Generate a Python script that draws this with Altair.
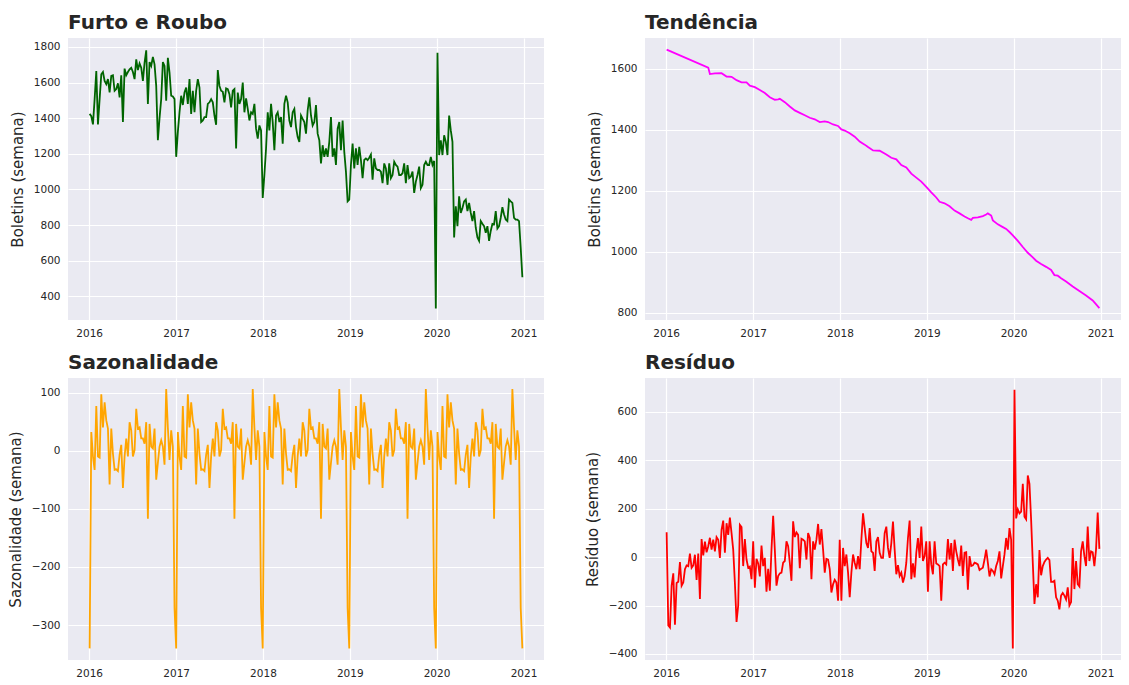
import altair as alt
import numpy as np
import pandas as pd

# ---- weekly index (261 weeks, Sundays) ----
start_date = "2016-01-03"
n_weeks = 261

# ---- observed: Furto e Roubo (boletins por semana) ----
observado = [
    1424, 1411, 1365, 1507, 1665, 1365, 1507, 1646, 1659, 1609,
    1591, 1619, 1544, 1637, 1641, 1554, 1563, 1596, 1517, 1641,
    1378, 1678, 1641, 1659, 1674, 1683, 1659, 1619, 1730, 1670,
    1707, 1683, 1609, 1711, 1781, 1480, 1715, 1693, 1744, 1702,
    1581, 1276, 1400, 1507, 1715, 1693, 1498, 1739, 1656, 1526,
    1522, 1507, 1183,
    1322, 1433, 1526, 1474, 1544, 1572, 1480, 1619, 1424, 1554,
    1433, 1554, 1619, 1572, 1378, 1387, 1406, 1406, 1480, 1489,
    1507, 1489, 1415, 1363, 1670, 1581, 1554, 1548, 1489, 1567,
    1563, 1535, 1461, 1554, 1563, 1230, 1544, 1480, 1507, 1600,
    1433, 1511, 1452, 1387,
    1433, 1424, 1480, 1341, 1285, 1359, 1331,
    952,
    1081, 1230, 1433, 1331, 1480, 1378, 1220, 1415, 1433, 1378,
    1406, 1257, 1480, 1526, 1489, 1387, 1350, 1433, 1452, 1350,
    1294, 1267, 1415, 1396, 1378, 1313, 1443, 1517, 1415, 1359,
    1378, 1474, 1313, 1276, 1146, 1248, 1183, 1230, 1183, 1267,
    1406, 1183, 1230, 1137, 1341, 1378, 1220, 1387, 1211, 1100,
    933, 943,
    1137, 1257, 1118, 1230, 1137, 1239, 1165, 1063, 1165, 1174,
    1165, 1178, 1196, 1054, 1174, 1118, 1109, 1109, 1100, 1035,
    1146, 1118, 1026, 1146, 1063, 1081,
    1155, 1137, 1128, 1081, 1081, 1091, 1146, 1035, 1137, 1063,
    1072, 1100, 980, 1044, 1081, 1128, 1007, 1026, 1137, 1155,
    1137, 1137, 1183, 1137,
    1160,
    331, 1767,
    1193, 1276, 1193, 1304, 1267, 1193, 1415, 1331, 1267, 730,
    905, 794, 961, 868, 896, 933, 943, 878, 924, 868,
    822, 878, 785, 730, 711, 822, 807, 794, 757, 794,
    711, 767, 807, 804, 878, 781, 794, 841, 900, 859,
    831, 822, 943, 933, 924, 841, 831, 831, 822, 674,
    507,
]

# ---- trend (read at irregular week indices) ----
tendencia_semana = [
    0, 25, 26, 29, 33, 36, 39, 42, 45, 48, 50, 53, 56, 59, 62, 65, 67, 68,
    71, 74, 77, 80, 83, 86, 89, 92, 95, 97, 100, 103, 105, 107, 110, 113,
    116, 119, 121, 124, 128, 132, 135, 138, 141, 144, 147, 150, 153, 156,
    159, 162, 164, 167, 170, 173, 176, 179, 181, 183, 184, 187, 190, 192,
    193, 195, 196, 199, 202, 204, 206, 208, 211, 214, 217, 220, 222, 225,
    228, 231, 233, 235, 237, 240, 244, 248, 252, 256, 260,
]
tendencia = [
    1662, 1603, 1582, 1584, 1585, 1574, 1573, 1562, 1555, 1555, 1544, 1539,
    1530, 1520, 1506, 1498, 1499, 1501, 1490, 1476, 1463, 1455, 1447, 1439,
    1434, 1425, 1427, 1425, 1417, 1412, 1401, 1397, 1388, 1377, 1361, 1351,
    1343, 1332, 1331, 1319, 1308, 1303, 1284, 1276, 1256, 1243, 1230, 1213,
    1195, 1178, 1164, 1159, 1149, 1135, 1126, 1116, 1110, 1105, 1111, 1113,
    1117, 1122, 1126, 1119, 1103, 1090, 1081, 1075, 1065, 1054, 1036, 1016,
    997, 982, 971, 960, 951, 941, 924, 922, 914, 903, 887, 872, 857, 841, 816,
]

# ---- seasonal component ----
sazonalidade = [
    -340, 32, -10, -33, 77, -10, -12, 97, 40, 83, 52, 38, -58, 38, -5, -33, -32, -35, -7, 10,
    -64, -10, 21, -10, 49, 35, -10, 1, 72, 38, 40, 21, 21, 12, 49, -117, 46, 7, 4, 38,
    -50, -21, 7, 18, 7, -24, 106, 40, -16, 35, 7, -270,
    -340, 32, -10, -33, 77, -10, -12, 97, 40, 83, 52, 38, -58, 38, -5, -33, -32, -35, -7, 10,
    -64, -10, 21, -10, 49, 35, -10, 1, 72, 38, 40, 21, 21, 12, 49, -117, 46, 7, 4, 38,
    -50, -21, 7, 18, 7, -24, 106, 40, -16, 35, 7, -270,
    -340, 32, -10, -33, 77, -10, -12, 97, 40, 83, 52, 38, -58, 38, -5, -33, -32, -35, -7, 10,
    -64, -10, 21, -10, 49, 35, -10, 1, 72, 38, 40, 21, 21, 12, 49, -117, 46, 7, 4, 38,
    -50, -21, 7, 18, 7, -24, 106, 40, -16, 35, 7, -270,
    -340, 32, -10, -33, 77, -10, -12, 97, 40, 83, 52, 38, -58, 38, -5, -33, -32, -35, -7, 10,
    -64, -10, 21, -10, 49, 35, -10, 1, 72, 38, 40, 21, 21, 12, 49, -117, 46, 7, 4, 38,
    -50, -21, 7, 18, 7, -24, 106, 40, -16, 35, 7, -270,
    -340, 32, -10, -33, 77, -10, -12, 97, 40, 83, 52, 38, -58, 38, -5, -33, -32, -35, -7, 10,
    -64, -10, 21, -10, 49, 35, -10, 1, 72, 38, 40, 21, 21, 12, 49, -117, 46, 7, 4, 38,
    -50, -21, 7, 18, 7, -24, 106, 40, -16, 35, 7, -270,
    -340,
]

# ---- residual component ----
residuo = [
    103, -282, -291, -118, -67, -279, -107, -102, -20, -118,
    -105, -50, -34, -37, 15, -44, -34, 10, -94, 15,
    -173, 75, 7, 64, 20, 45, 80, 31, 72, 24,
    83, 72, -3, 113, 151, 18, 140, 92, 163, 99,
    31, -105, -268, -200, 133, 124, -37, 75, -10, -44,
    -39, -91,
    65, -126, -7, -26, -80, 48, -37, -3, -143, -48,
    -139, 31, 171, 31, -118, -78, -67, -64, -23, -16,
    65, 45, -23, -98, 148, 83, 102, 92, -46, 76,
    72, 65, -10, 99, 79, -91, 65, 31,
    72, 137, 52, 116, 31, -64, -7, -10, -50, -146,
    -112, -94, -105, -180, 72, -180, 38, -37, 11, -64,
    -166, -64, 11, -23, -50, 4, -50, 72, 181, 120,
    58, 38, 120, 24, 18, -57, 65, 83, 18, -3,
    -3, 99, 126, 38, -3, 58, 147, 31, -71, -33,
    -78, -64, -105, -78, -23, 79, 151, -91, -26, -84,
    18, 79, -3, 126, -16, 4, 65, -143, 65, -30,
    -71, 65, -26, -30, -37, -180, -30, -23,
    -30, 75, -10, 58, -57, 72, 24, -10, -37, 48,
    -78, 18, 20, -135, 4, -37, -34, -23, -26, -30,
    -53, -48, -44, -10, 31, -23, -80, -50, -57, -71,
    -37, -16, 24, -88, -37, 11, 79, 31, 120, 72,
    -377, 691, 160, 197, 181, 188, 303, 167, 156, 337,
    303, 154, -23, -193, -112, -166, 29, -75, -37, -20,
    -10, -3, -12, -102, -102, -98, -166, -180, -216, -159,
    -148, -159, -175, -125, -200, -186, 38, -132, -16, -112,
    -121, 24, 65, 4, -37, 126, -16, 24, 20, -37,
    31, 184, 34,
]

anos = [2016, 2017, 2018, 2019, 2020, 2021]

datas = pd.date_range(start_date, periods=n_weeks, freq="W")
t0 = pd.Timestamp(start_date)
datas_tend = [t0 + pd.Timedelta(weeks=w) for w in tendencia_semana]

df_obs = pd.DataFrame({"data": datas, "valor": observado})
df_tend = pd.DataFrame({"data": datas_tend, "valor": tendencia})
df_saz = pd.DataFrame({"data": datas, "valor": sazonalidade})
df_res = pd.DataFrame({"data": datas, "valor": residuo})

x_domain = [alt.DateTime(year=2015, month=10, date=4), alt.DateTime(year=2021, month=3, date=28)]
x_ticks = [alt.DateTime(year=a, month=1, date=1) for a in anos]

TXT = "#262626"
W, H = 476, 282


def painel(df, cor, titulo, ytitulo, ydom, yticks):
    return (
        alt.Chart(
            df,
            title=alt.Title(
                titulo, anchor="start", frame="group", fontSize=20,
                fontWeight="bold", font="DejaVu Sans", color=TXT, offset=5,
            ),
        )
        .mark_line(color=cor, strokeWidth=1.8, clip=True)
        .encode(
            x=alt.X(
                "data:T",
                scale=alt.Scale(domain=x_domain),
                axis=alt.Axis(values=x_ticks, format="%Y", title=None, labelAngle=0),
            ),
            y=alt.Y(
                "valor:Q",
                scale=alt.Scale(domain=ydom, nice=False, zero=False),
                axis=alt.Axis(values=yticks, title=ytitulo, format="d"),
            ),
        )
        .properties(width=W, height=H)
    )


p1 = painel(df_obs, "#006400", "Furto e Roubo", "Boletins (semana)",
            [267, 1850], [400, 600, 800, 1000, 1200, 1400, 1600, 1800])
p2 = painel(df_tend, "#FF00FF", "Tendência", "Boletins (semana)",
            [777, 1700], [800, 1000, 1200, 1400, 1600])
p3 = painel(df_saz, "#FFA500", "Sazonalidade", "Sazonalidade (semana)",
            [-360, 125], [-300, -200, -100, 0, 100])
p4 = painel(df_res, "#FF0000", "Resíduo", "Resíduo (semana)",
            [-425, 740], [-400, -200, 0, 200, 400, 600])

chart = (
    alt.concat(p1, p2, p3, p4, columns=2, spacing={"row": 14, "column": 41})
    .properties(padding={"left": 0, "top": 5, "right": 0, "bottom": 0})
    .configure_view(fill="#EAEAF2", stroke=None)
    .configure_axis(
        grid=True, gridColor="white", gridWidth=1.2, domain=False, ticks=False,
        labelFont="DejaVu Sans", labelFontSize=10.5, labelColor=TXT, labelPadding=8,
        titleFont="DejaVu Sans", titleFontSize=15, titleFontWeight="normal",
        titleColor=TXT, titlePadding=8,
    )
)

chart.save("out.html", embed_options={"renderer": "svg", "actions": False})
